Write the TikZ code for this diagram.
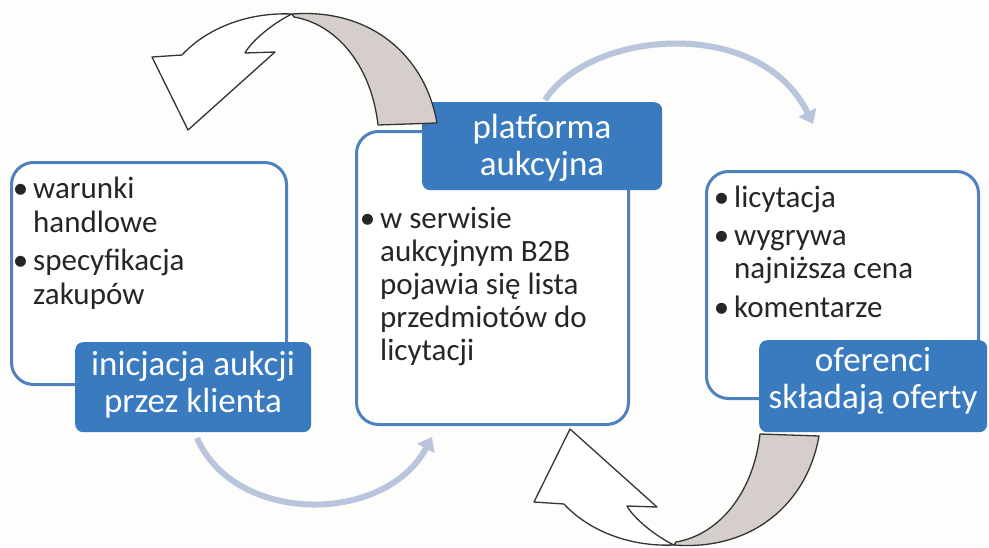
\documentclass[tikz,border=0pt]{standalone}
\usepackage{fontspec}
\setmainfont{Carlito}
\usetikzlibrary{arrows.meta}

\definecolor{pagebg}{RGB}{253,253,251}
\definecolor{frameblue}{RGB}{79,129,189}
\definecolor{labelblue}{RGB}{58,123,192}
\definecolor{flowarc}{RGB}{185,196,221}
\definecolor{ribbon}{RGB}{214,206,202}
\definecolor{bodytext}{RGB}{38,38,38}

% bullet hung to the left of an item
\newcommand\bul{\llap{\textbullet\hspace{5pt}}}

% twisted ribbon arrow (outline drawn once, reused mirrored)
\newcommand\twistshape{%
  \filldraw[bigarrow, fill=white]
    (152,57) -- (182,55) .. controls (205,30) and (245,12) .. (292,14)
    .. controls (275,22) and (252,40) .. (245,53) -- (275,52) -- (188,130) -- cycle;
  \filldraw[bigarrow, fill=ribbon]
    (292,14) .. controls (370,8) and (425,55) .. (437,123) -- (378,125)
    .. controls (372,70) and (340,25) .. (294,17) -- cycle;
}

\tikzset{
  panel/.style={draw=frameblue, line width=3pt, fill=white, rounded corners=22pt,
                anchor=north west, inner sep=0pt},
  tag/.style={fill=labelblue, rounded corners=8pt, anchor=north west, inner sep=0pt},
  % multi-line texts are placed by the baseline of their last line
  tagtext/.style={text=white, font=\fontsize{35}{37}\selectfont, align=center,
                  anchor=base, inner sep=0pt},
  bodytxt/.style={text=bodytext, font=\fontsize{31}{33}\selectfont, align=left,
                  anchor=base west, inner sep=0pt},
  cyclearc/.style={draw=flowarc, line width=6pt, -{Triangle[width=19pt,length=13pt]}},
  bigarrow/.style={draw=black!80, line width=1.3pt, line join=round},
}

\begin{document}
\begin{tikzpicture}[x=1pt, y=-1pt]
  \fill[pagebg] (0,0) rectangle (989,547);
  \useasboundingbox (0,0) rectangle (989,547);

  % thin cycle arcs
  \coordinate (upS) at (545,100);
  \coordinate (upE) at (813,124);
  \coordinate (loS) at (197,438);
  \coordinate (loE) at (432,437);
  \draw[cyclearc] (upS) .. controls (590,30) and (760,15) .. (upE);
  \draw[cyclearc] (loS) .. controls (235,525) and (385,525) .. (loE);

  % panels
  \node[panel, minimum width=275pt, minimum height=222pt] (lpanel) at (10,161) {};
  \node[panel, minimum width=272pt, minimum height=293pt] (mpanel) at (355,130) {};
  \node[panel, minimum width=272pt, minimum height=227pt] (rpanel) at (705,170) {};

  % title tags
  \node[tag, minimum width=236pt, minimum height=90pt] (ltag) at (75,342) {};
  \node[tag, minimum width=240pt, minimum height=88pt] (mtag) at (422,102) {};
  \node[tag, minimum width=228pt, minimum height=92pt] (rtag) at (759,340) {};

  \node[tagtext] (ltitle) at (193,412) {inicjacja aukcji\\przez klienta};
  \node[tagtext] (mtitle) at (542,175) {platforma\\aukcyjna};
  \node[tagtext] (rtitle) at (873,408) {oferenci\\składają oferty};

  % panel contents
  \node[bodytxt, font=\fontsize{31}{34}\selectfont] (lbody) at (33,304)
    {\bul warunki\\handlowe\\[4pt]\bul specyfikacja\\zakupów};
  \node[bodytxt] (mbody) at (380,360)
    {\bul w serwisie\\aukcyjnym B2B\\pojawia się lista\\przedmiotów do\\licytacji};
  \node[bodytxt] (rbody) at (734,317)
    {\bul licytacja\\[5pt]\bul wygrywa\\najniższa cena\\[6pt]\bul komentarze};

  % twisted arrows
  \twistshape
  \begin{scope}[shift={(382,559)}, yscale=-1]
    \twistshape
  \end{scope}
\end{tikzpicture}
\end{document}
